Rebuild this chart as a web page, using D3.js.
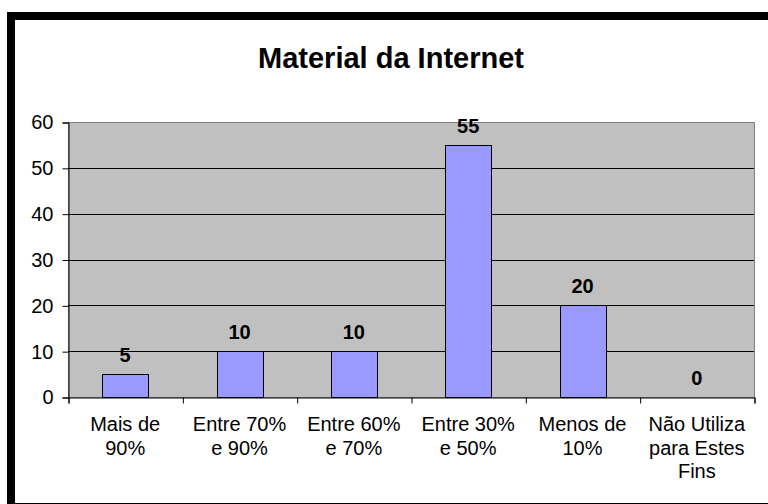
<!DOCTYPE html>
<html>
<head>
<meta charset="utf-8">
<script src="https://cdn.jsdelivr.net/npm/d3@7"></script>
<style>
  html, body { margin: 0; padding: 0; background: #fff; }
  svg { display: block; font-family: Arial, "Liberation Sans", sans-serif; }
</style>
</head>
<body>
<svg></svg>
<script>
// data
const title = "Material da Internet";
const categories = [
  ["Mais de", "90%"],
  ["Entre 70%", "e 90%"],
  ["Entre 60%", "e 70%"],
  ["Entre 30%", "e 50%"],
  ["Menos de", "10%"],
  ["Não Utiliza", "para Estes", "Fins"]
];
const values = [5, 10, 10, 55, 20, 0];
const yTicks = [0, 10, 20, 30, 40, 50, 60];

let width = 768;
let height = 504;
let plotLeft = 68;
let plotRight = 754;
let plotTop = 122;
let plotBottom = 397;
let fontSize = 20;

const svg = d3.select("svg")
  .attr("width", width)
  .attr("height", height);

//outer frame
svg.append("rect")
  .attr("x", 11)
  .attr("y", 16)
  .attr("width", 761)
  .attr("height", 491)
  .attr("fill", "#fff")
  .attr("stroke", "#000")
  .attr("stroke-width", 8);

//title
svg.append("text")
  .attr("x", 391)
  .attr("y", 68)
  .attr("text-anchor", "middle")
  .attr("font-size", 29)
  .attr("font-weight", "bold")
  .text(title);

//scales
const xScale = d3.scaleBand()
  .domain(d3.range(categories.length))
  .range([plotLeft, plotRight])
  .paddingInner(0.6)
  .paddingOuter(0.3);
const edgeScale = d3.scaleLinear()
  .domain([0, categories.length])
  .range([plotLeft, plotRight]);
const yScale = d3.scaleLinear()
  .domain([0, 60])
  .range([plotBottom, plotTop]);

//plot area
svg.append("rect")
  .attr("x", plotLeft + 0.5)
  .attr("y", plotTop + 0.5)
  .attr("width", plotRight - plotLeft)
  .attr("height", plotBottom - plotTop)
  .attr("fill", "#c0c0c0")
  .attr("stroke", "#808080");

//gridlines
svg.append("g")
  .selectAll("line")
  .data(yTicks.filter(d => d > 0 && d < 60))
  .enter()
  .append("line")
  .attr("x1", plotLeft)
  .attr("x2", plotRight)
  .attr("y1", d => Math.round(yScale(d)) + 0.5)
  .attr("y2", d => Math.round(yScale(d)) + 0.5)
  .attr("stroke", "#000");

//bars
svg.append("g")
  .selectAll("rect")
  .data(values)
  .enter()
  .append("rect")
  .attr("x", (d, i) => Math.round(xScale(i)) + 0.5)
  .attr("y", d => Math.round(yScale(d)) + 0.5)
  .attr("width", Math.round(xScale.bandwidth()))
  .attr("height", d => Math.round(yScale(0)) - Math.round(yScale(d)))
  .attr("fill", "#9999ff")
  .attr("stroke", "#000")
  .attr("stroke-width", d => d > 0 ? 1 : 0);

//value labels
svg.append("g")
  .selectAll("text")
  .data(values)
  .enter()
  .append("text")
  .attr("x", (d, i) => xScale(i) + xScale.bandwidth() / 2)
  .attr("y", d => yScale(d) - 12)
  .attr("text-anchor", "middle")
  .attr("font-size", fontSize)
  .attr("font-weight", "bold")
  .text(d => d);

//axis
const yAxis = d3.axisLeft(yScale)
  .tickValues(yTicks)
  .tickSize(6)
  .tickPadding(9);
const xAxis = d3.axisBottom(edgeScale)
  .tickValues(d3.range(categories.length + 1))
  .tickSize(6)
  .tickFormat("");

const gy = svg.append("g")
  .attr("transform", `translate(${plotLeft + 0.5}, 0.5)`)
  .call(yAxis);
gy.selectAll("text")
  .attr("font-size", fontSize)
  .attr("font-family", "Arial, 'Liberation Sans', sans-serif")
  .attr("fill", "#000");
gy.select(".domain").attr("stroke", "#000");

const gx = svg.append("g")
  .attr("transform", `translate(0.5, ${plotBottom + 0.5})`)
  .call(xAxis);
gx.select(".domain").attr("stroke", "#000");

//category labels
const catText = svg.append("g")
  .selectAll("text")
  .data(categories)
  .enter()
  .append("text")
  .attr("text-anchor", "middle")
  .attr("font-size", fontSize);
catText.each(function(lines, i) {
  let cx = xScale(i) + xScale.bandwidth() / 2;
  lines.forEach((line, j) => {
    d3.select(this).append("tspan")
      .attr("x", cx)
      .attr("y", 431 + j * 23.5)
      .text(line);
  });
});
</script>
</body>
</html>
